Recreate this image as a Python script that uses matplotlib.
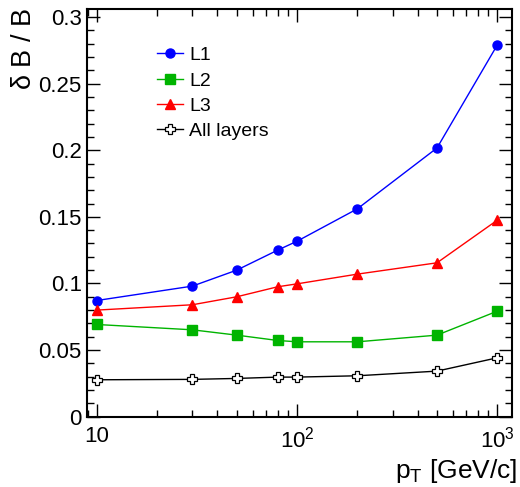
import matplotlib
matplotlib.use('Agg')
import matplotlib.pyplot as plt
from matplotlib.ticker import FixedLocator, FuncFormatter, MultipleLocator, LogLocator, NullFormatter

plt.rcParams['font.family'] = ['Liberation Sans', 'DejaVu Sans']
plt.rcParams['mathtext.fontset'] = 'custom'
plt.rcParams['mathtext.rm'] = 'Liberation Sans'
plt.rcParams['mathtext.it'] = 'Liberation Sans'

# pT values [GeV/c]
pt = [10, 30, 50, 80, 100, 200, 500, 1000]

# relative resolution dB/B per layer
l1 = [0.0872, 0.098, 0.110, 0.125, 0.1317, 0.156, 0.2017, 0.279]
l2 = [0.0692, 0.0652, 0.0612, 0.0572, 0.0562, 0.0562, 0.0612, 0.0792]
l3 = [0.080, 0.084, 0.090, 0.0975, 0.0997, 0.107, 0.1155, 0.1475]
all_layers = [0.0277, 0.028, 0.0287, 0.0297, 0.0297, 0.0307, 0.0342, 0.0442]

fig = plt.figure(figsize=(5.2, 4.87), dpi=100)
ax = fig.add_axes([0.168, 0.1444, 0.816, 0.8371])

ax.plot(pt, l1, color='#0000ff', lw=1, marker='o', ms=6.5, label='L1')
ax.plot(pt, l2, color='#00b400', lw=1, marker='s', ms=6.5, label='L2')
ax.plot(pt, l3, color='#ff0000', lw=1, marker='^', ms=6.5, label='L3')
ax.plot(pt, all_layers, color='black', lw=1, marker='P', ms=7.5,
        mfc='white', mec='black', mew=0.9, label='All layers')

ax.set_xscale('log')
ax.set_xlim(8.97, 1180)
ax.set_ylim(0, 0.306)

ax.xaxis.set_major_locator(FixedLocator([10, 100, 1000]))
labels = {10: '10', 100: r'$\mathregular{10^{2}}$', 1000: r'$\mathregular{10^{3}}$'}
ax.xaxis.set_major_formatter(FuncFormatter(lambda v, p: labels.get(int(round(v)), '')))
ax.xaxis.set_minor_locator(LogLocator(base=10, subs=range(2, 10)))
ax.xaxis.set_minor_formatter(NullFormatter())

ax.yaxis.set_major_locator(MultipleLocator(0.05))
ax.yaxis.set_minor_locator(MultipleLocator(0.01))
ax.yaxis.set_major_formatter(FuncFormatter(lambda v, p: ('%g' % round(v, 3))))

ax.tick_params(which='both', direction='in', top=True, right=True, width=1)
ax.tick_params(which='major', length=9.4, labelsize=16)
ax.tick_params(axis='x', which='major', pad=7)
ax.tick_params(axis='y', which='major', pad=4)
ax.tick_params(which='minor', length=4.7)
for s in ax.spines.values():
    s.set_linewidth(1.5)

fig.text(24 / 520, 1 - 8 / 487, r'$\mathregular{\delta}$ B / B', rotation=90,
         ha='center', va='top', fontsize=19.5)
fig.text(517 / 520, 1 - 478 / 487, r'p$_{\mathregular{T}}$ [GeV/c]',
         ha='right', va='baseline', fontsize=19)

ax.legend(loc='upper left', bbox_to_anchor=(0.164, 0.908), frameon=False,
          fontsize=14, handlelength=1.35, handletextpad=0.3, labelspacing=0.4,
          borderpad=0, borderaxespad=0)

fig.savefig('out.png', dpi=100)
